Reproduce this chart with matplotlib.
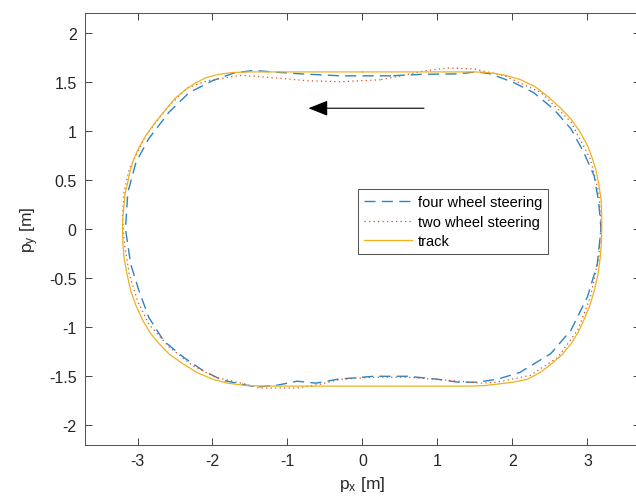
import matplotlib
matplotlib.use("Agg")
import matplotlib.pyplot as plt

plt.rcParams['font.family'] = ['Liberation Sans', 'DejaVu Sans']
plt.rcParams['mathtext.default'] = 'regular'
plt.rcParams['axes.unicode_minus'] = False

# track (closed loop)
track_x = [0.0, -1.3, -1.5, -1.73, -1.92, -2.09, -2.22, -2.36, -2.5, -2.62, -2.76, -2.89,
           -2.98, -3.05, -3.1, -3.13, -3.165, -3.18, -3.195, -3.2,
           -3.195, -3.18, -3.14, -3.09, -3.02, -2.93, -2.83, -2.71, -2.57, -2.4, -2.21,
           -2.0, -1.8, -1.56, -1.29, 0.0,
           1.44, 1.62, 1.8, 2.01, 2.2, 2.37, 2.51, 2.66, 2.78, 2.87, 2.95, 3.03, 3.09,
           3.14, 3.17, 3.185, 3.19,
           3.19, 3.18, 3.15, 3.11, 3.06, 3.0, 2.9, 2.78, 2.63, 2.47, 2.3, 2.11, 1.91,
           1.71, 1.58, 1.44, 0.0]
track_y = [1.6, 1.6, 1.6, 1.594, 1.575, 1.54, 1.49, 1.42, 1.33, 1.22, 1.09, 0.95,
           0.83, 0.71, 0.59, 0.475, 0.36, 0.24, 0.12, 0.0,
           -0.14, -0.29, -0.46, -0.63, -0.78, -0.93, -1.06, -1.17, -1.28, -1.37, -1.46,
           -1.53, -1.57, -1.594, -1.6, -1.6,
           -1.6, -1.595, -1.58, -1.56, -1.53, -1.46, -1.38, -1.28, -1.17, -1.06, -0.93, -0.78, -0.63,
           -0.46, -0.29, -0.14, 0.0,
           0.15, 0.305, 0.46, 0.61, 0.73, 0.85, 0.99, 1.12, 1.24, 1.35, 1.45, 1.52, 1.565,
           1.59, 1.598, 1.6, 1.6]

# four wheel steering trajectory
four_x = [0.38, -0.29, -0.82, -1.2, -1.45, -1.71, -2.0, -2.31, -2.58, -2.85, -3.02, -3.13,
          -3.16, -3.09, -2.98, -2.85, -2.65, -2.38, -2.13, -1.87, -1.42, -1.13, -0.87, -0.62,
          -0.33, 0.15, 0.6, 1.0, 1.27, 1.53, 1.8, 2.1, 2.51, 2.78, 3.0, 3.13, 3.18, 3.15,
          3.09, 2.95, 2.78, 2.55, 2.28, 2.02, 1.71, 1.52, 1.27, 0.78, 0.38]
four_y = [1.56, 1.56, 1.58, 1.6, 1.615, 1.59, 1.51, 1.39, 1.19, 0.92, 0.68, 0.37,
          0.0, -0.36, -0.63, -0.9, -1.14, -1.31, -1.44, -1.54, -1.61, -1.59, -1.55, -1.57,
          -1.53, -1.5, -1.5, -1.53, -1.56, -1.56, -1.53, -1.46, -1.27, -1.03, -0.69, -0.36, 0.0, 0.27,
          0.54, 0.78, 1.02, 1.22, 1.39, 1.49, 1.58, 1.6, 1.58, 1.575, 1.56]

# two wheel steering trajectory
two_x = [0.24, -0.29, -0.73, -1.18, -1.62, -2.07, -2.33, -2.6, -2.89, -3.11, -3.18, -3.2,
         -3.18, -3.11, -3.0, -2.85, -2.58, -2.27, -1.96, -1.56, -1.36, -0.87, -0.56, -0.29,
         0.15, 0.6, 1.13, 1.58, 1.8, 2.24, 2.6, 2.87, 3.04, 3.15, 3.18, 3.15, 3.04, 2.78,
         2.38, 1.89, 1.49, 1.13, 0.82, 0.51, 0.24]
two_y = [1.52, 1.5, 1.51, 1.54, 1.565, 1.51, 1.44, 1.24, 0.95, 0.61, 0.37, 0.14,
         -0.12, -0.46, -0.73, -0.97, -1.2, -1.39, -1.51, -1.58, -1.62, -1.62, -1.58, -1.53,
         -1.51, -1.51, -1.54, -1.57, -1.56, -1.49, -1.31, -1.03, -0.69, -0.29, 0.05, 0.37, 0.71, 1.09,
         1.39, 1.56, 1.63, 1.64, 1.61, 1.56, 1.52]

arrow_start = (0.82, 1.23)
arrow_end = (-0.72, 1.23)

fig = plt.figure(figsize=(6.36, 5.02), dpi=100)
ax = fig.add_axes([85 / 636, 56 / 502, 555 / 636, 432 / 502])

ax.plot(four_x, four_y, color='#2a84c8', lw=1.0, dashes=(8, 4.5),
        label='four wheel steering')
ax.plot(two_x, two_y, color='#D95319', lw=0.9, linestyle=(0, (1, 2.6)),
        label='two wheel steering')
ax.plot(track_x, track_y, color='#EDB120', lw=0.9, label='track')

ax.annotate('', xy=arrow_end, xytext=arrow_start,
            arrowprops=dict(arrowstyle='-|>,head_length=1.0,head_width=0.4',
                            mutation_scale=12, color='black', lw=0.8,
                            shrinkA=0, shrinkB=0))

ax.set_xlim(-3.7, 3.7)
ax.set_ylim(-2.2, 2.2)
ax.set_xticks([-3, -2, -1, 0, 1, 2, 3])
ax.set_yticks([-2, -1.5, -1, -0.5, 0, 0.5, 1, 1.5, 2])
ax.set_yticklabels(['-2', '-1.5', '-1', '-0.5', '0', '0.5', '1', '1.5', '2'])

ax.tick_params(direction='in', length=5, width=0.6, colors='#262626',
               labelsize=11.5, top=True, right=True, pad=6)
for s in ax.spines.values():
    s.set_color('#555555')
    s.set_linewidth(0.75)

ax.set_xlabel('p$_x$ [m]', fontsize=12.5, color='#262626', labelpad=4)
ax.set_ylabel('p$_y$ [m]', fontsize=12.5, color='#262626', labelpad=6)

leg = ax.legend(loc='upper left', bbox_to_anchor=((358 - 85) / 555, (446 - 190) / 432),
                borderaxespad=0, fontsize=10.5, fancybox=False, framealpha=1,
                edgecolor='#555555', handlelength=3.3, handletextpad=0.4,
                labelspacing=0.4, borderpad=0.4)
leg.get_frame().set_linewidth(0.75)

fig.savefig('out.png', dpi=100)
